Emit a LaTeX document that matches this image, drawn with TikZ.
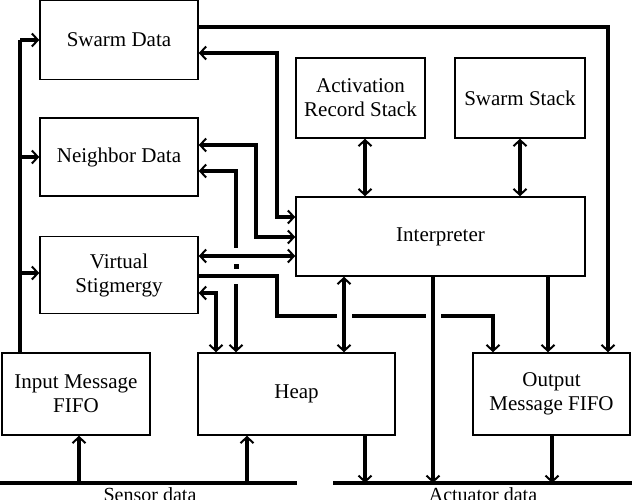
\documentclass[tikz,border=0pt]{standalone}
\usepackage{fontspec}
\setmainfont{Liberation Serif}
\usetikzlibrary{arrows.meta}
\begin{document}
\begin{tikzpicture}[x=1pt,y=-1pt,
  blk/.style={draw,line width=1.5pt,align=center,inner sep=0pt,font=\fontsize{21}{24}\selectfont},
  bus/.style={line width=3.5pt},
  ar/.style={bus,-{Straight Barb[length=6pt,width=13pt,line width=2pt]}},
  dar/.style={bus,{Straight Barb[length=6pt,width=13pt,line width=2pt]}-{Straight Barb[length=6pt,width=13pt,line width=2pt]}}]
 \useasboundingbox (0,0) rectangle (632,500);
 \node[blk,minimum width=158pt,minimum height=79pt] (sd) at (119,40) {Swarm Data};
 \node[blk,minimum width=158pt,minimum height=78pt] (nd) at (119,157) {Neighbor Data};
 \node[blk,minimum width=158pt,minimum height=77pt] (vs) at (119,275) {Virtual\\Stigmergy};
 \node[blk,minimum width=129pt,minimum height=80pt] (ars) at (360.5,98) {Activation\\Record Stack};
 \node[blk,minimum width=130pt,minimum height=80pt] (ss) at (520,98) {Swarm Stack};
 \node[blk,minimum width=289pt,minimum height=79pt] (int) at (440.5,236.5) {Interpreter};
 \node[blk,minimum width=148pt,minimum height=82pt] (in) at (76,394) {Input Message\\FIFO};
 \node[blk,minimum width=197pt,minimum height=82pt] (hp) at (296.5,394) {Heap};
 \node[blk,minimum width=157pt,minimum height=82pt] (out) at (551.5,394) {Output\\Message FIFO};
 \coordinate (sens) at (297,483);
 \coordinate (act) at (333,483);
 \draw[bus] (0,483) -- (sens);
 \draw[bus] (act) -- (632,483);
 \node[font=\fontsize{20}{23}\selectfont,anchor=north,inner sep=1pt] (sl) at (150,486) {Sensor data};
 \node[font=\fontsize{20}{23}\selectfont,anchor=north,inner sep=1pt] (al) at (483,486) {Actuator data};
 % inputs
 \draw[bus] (in.north -| 20,0) -- (20,40);
 \draw[ar] (20,40) -- (sd.west);
 \draw[ar] (20,157) -- (nd.west);
 \draw[ar] (20,273) -- (vs.west |- 0,273);
 \draw[ar] (79,483) -- (in.south -| 79,0);
 \draw[ar] (247,483) -- (hp.south -| 247,0);
 % swarm data
 \draw[ar] (sd.east |- 0,27) -- (608,27) -- (out.north -| 608,0);
 \draw[dar] (sd.east |- 0,53) -- (277,53) -- (277,217) -- (int.west |- 0,217);
 % neighbor data
 \draw[dar] (nd.east |- 0,145) -- (256,145) -- (256,237) -- (int.west |- 0,237);
 \draw[bus,{Straight Barb[length=6pt,width=13pt,line width=2pt]}-] (nd.east |- 0,171) -- (236,171) -- (236,248);
 \fill (233.5,264) rectangle (238.5,269);
 \draw[ar] (236,284) -- (hp.north -| 236,0);
 % virtual stigmergy
 \draw[dar] (vs.east |- 0,256) -- (int.west |- 0,256);
 \draw[bus] (vs.east |- 0,276) -- (277,276) -- (277,316) -- (337,316);
 \draw[bus] (352,316) -- (426,316);
 \draw[ar] (441,316) -- (493,316) -- (out.north -| 493,0);
 \draw[dar] (vs.east |- 0,293) -- (216,293) -- (hp.north -| 216,0);
 % interpreter
 \draw[dar] (ars.south -| 365,0) -- (int.north -| 365,0);
 \draw[dar] (ss.south) -- (int.north -| ss.south);
 \draw[dar] (int.south -| 344,0) -- (hp.north -| 344,0);
 \draw[ar] (int.south -| 433,0) -- (433,483);
 \draw[ar] (int.south -| 548,0) -- (out.north -| 548,0);
 % outputs
 \draw[ar] (hp.south -| 365,0) -- (365,483);
 \draw[ar] (out.south -| 552,0) -- (552,483);
\end{tikzpicture}
\end{document}
